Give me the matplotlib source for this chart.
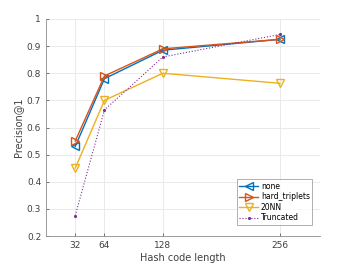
import matplotlib
matplotlib.use("Agg")
import matplotlib.pyplot as plt

x = [32, 64, 128, 256]
none = [0.53, 0.78, 0.885, 0.925]
hard_triplets = [0.55, 0.79, 0.89, 0.925]
nn20 = [0.45, 0.70, 0.80, 0.763]
truncated = [0.275, 0.665, 0.86, 0.943]
xticks = [32, 64, 128, 256]
yticks = [0.2, 0.3, 0.4, 0.5, 0.6, 0.7, 0.8, 0.9, 1.0]
ytick_labels = ["0.2", "0.3", "0.4", "0.5", "0.6", "0.7", "0.8", "0.9", "1"]

plt.rcParams['font.family'] = ['DejaVu Sans']
fig = plt.figure(figsize=(3.53, 2.65), dpi=100)
ax = fig.add_axes([46/353, 1 - 236/265, (320-46)/353, (236-19)/265])

c_blue = (0, 0.447, 0.741)
c_orange = (0.85, 0.325, 0.098)
c_yellow = (0.929, 0.694, 0.125)
c_purple = (0.494, 0.184, 0.556)

ax.plot(x, none, '-', color=c_blue, marker='<', markersize=5.5, markerfacecolor='none', lw=1.0, label='none')
ax.plot(x, hard_triplets, '-', color=c_orange, marker='>', markersize=5.5, markerfacecolor='none', lw=1.0, label='hard_triplets')
ax.plot(x, nn20, '-', color=c_yellow, marker='v', markersize=5.5, markerfacecolor='none', lw=1.0, label='20NN')
ax.plot(x, truncated, ':', color=c_purple, marker='.', markersize=2.5, lw=0.8, label='Truncated')

ax.set_xlim(0, 300)
ax.set_ylim(0.2, 1.0)
ax.set_xticks(xticks)
ax.set_yticks(yticks)
ax.set_yticklabels(ytick_labels)
ax.grid(True, color='#e6e6e6', lw=0.6)
ax.set_axisbelow(True)
for s in ['top', 'right']:
    ax.spines[s].set_visible(False)
for s in ['left', 'bottom']:
    ax.spines[s].set_color('#8c8c8c')
    ax.spines[s].set_linewidth(0.6)
ax.tick_params(labelsize=6.5, colors='#404040', length=2, width=0.5, direction='in')
ax.set_xlabel('Hash code length', fontsize=7, color='#404040', labelpad=2)
ax.set_ylabel('Precision@1', fontsize=7, color='#404040', labelpad=3)

leg = ax.legend(loc='lower right', fontsize=5.5, frameon=True, fancybox=False,
                edgecolor='#8c8c8c', handlelength=2.5, borderpad=0.3,
                labelspacing=0.2, handletextpad=0.3, bbox_to_anchor=(0.985, 0.035))
leg.get_frame().set_linewidth(0.6)

fig.savefig('out.png', dpi=100)
